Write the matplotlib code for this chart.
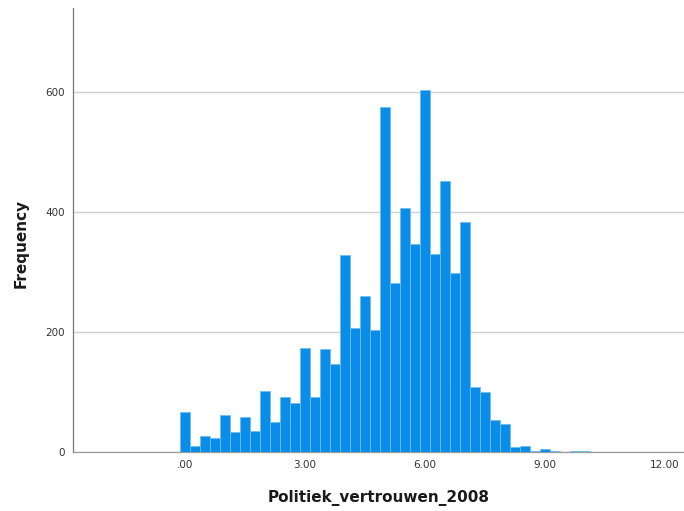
import numpy as np
import matplotlib
matplotlib.use("Agg")
import matplotlib.pyplot as plt
from matplotlib.ticker import FuncFormatter

# Histogram of political trust scores (bin width .25)
bin_centers = np.arange(0, 10.01, 0.25)
frequencies = [67, 10, 27, 23, 62, 33, 59, 35, 102, 50,
               92, 81, 174, 92, 172, 146, 329, 206, 260, 204,
               575, 281, 407, 346, 604, 330, 451, 298, 383, 108,
               100, 53, 46, 8, 10, 1, 5, 1, 0, 2,
               1]
bin_width = 0.25

x_ticks = [0, 3, 6, 9, 12]
y_ticks = [0, 200, 400, 600]

plt.rcParams['font.family'] = ['DejaVu Sans']

fig = plt.figure(figsize=(6.84, 5.11), dpi=100)
ax = fig.add_axes([0.1067, 0.1155, 0.8933, 0.8689])

ax.bar(bin_centers, frequencies, width=bin_width, color='#0a8ce9',
       edgecolor='#6fbdf3', linewidth=0.6, zorder=3)

ax.set_xlim(-2.8, 12.475)
ax.set_ylim(0, 740)
ax.set_xticks(x_ticks)
ax.set_yticks(y_ticks)
ax.xaxis.set_major_formatter(FuncFormatter(lambda v, p: ('%.2f' % v).lstrip('0') if v == 0 else '%.2f' % v))

ax.grid(axis='y', color='#cfcfcf', linewidth=1.0, zorder=0)
ax.tick_params(length=0, labelsize=7.5, labelcolor='#333333', pad=6)

for side in ['top', 'right']:
    ax.spines[side].set_visible(False)
ax.spines['left'].set_color('#777777')
ax.spines['bottom'].set_color('#999999')
ax.spines['left'].set_linewidth(0.9)
ax.spines['bottom'].set_linewidth(0.9)

ax.set_xlabel('Politiek_vertrouwen_2008', fontsize=11, fontweight='bold', color='#1a1a1a', labelpad=14)
ax.set_ylabel('Frequency', fontsize=11, fontweight='bold', color='#1a1a1a')
ax.yaxis.set_label_coords(-0.073, 0.47)

fig.savefig('out.png', dpi=100)
